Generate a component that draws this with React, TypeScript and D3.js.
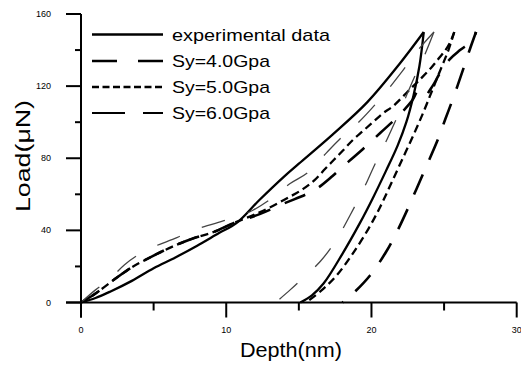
import React from "react";
import * as d3 from "d3";

type P = [number, number];

// Experimental data (depth nm, load µN)
const expLoading: P[] = [[0,0],[1,2.5],[2,6],[3.5,12],[5,19],[6.5,25],[8,31.5],[9.5,38.5],[10.7,44],[12.3,57],[14,70],[15,77],[17.3,93],[19.7,111],[21.9,132],[23.6,150]];
const expUnloading: P[] = [[23.6,150],[23.3,131],[22.9,115],[22.4,100],[21.8,87],[21.0,73],[20.1,58],[19.2,44],[18.0,27],[16.7,10.5],[15.9,4],[15.1,0]];

// Sy = 4.0 GPa
const sy4Loading: P[] = [[0,0],[1,5],[2.5,14],[3.5,19.5],[5,26],[6.3,31],[7.7,35.5],[9.1,39],[10.5,44],[12.3,49],[14,55],[15.5,60],[16.3,63.5],[17.3,70],[18.4,78],[19.4,85],[20.6,94],[21.8,103],[22.8,112],[23.2,117],[23.6,114],[24.2,120],[24.7,127],[25.4,135],[26.1,140],[26.9,145],[27.2,150]];
const sy4Unloading: P[] = [[27.2,150],[26.8,141],[26.3,129],[25.7,115],[25.1,102],[24.5,89],[23.8,76],[23.1,63],[22.5,52],[21.8,40],[21.0,28],[19.9,15],[18.6,4],[18.0,0]];

// Sy = 5.0 GPa
const sy5Loading: P[] = [[0,0],[1,5],[2.5,14],[3.5,19.5],[5,26],[6.3,31],[7.7,35.5],[9.1,39],[10.5,44],[12.3,50],[14,57],[15.3,63],[16.1,68],[16.8,74],[17.4,79],[18.0,84],[18.7,90],[19.4,95],[20.1,100],[20.8,105],[21.5,109],[22.5,117],[23.5,125],[24.2,131],[24.7,136],[25.1,140],[25.4,144],[25.7,150]];
const sy5Unloading: P[] = [[25.7,150],[25.3,140],[24.8,130],[24.2,118],[23.6,106],[22.9,93],[22.1,79],[21.3,65],[20.6,53],[19.8,41],[18.7,27],[17.6,15],[16.6,7],[15.5,0]];

// Sy = 6.0 GPa
const sy6Loading: P[] = [[0,0],[1,7],[2,13],[3,21],[4.5,29],[6.6,36],[7.7,40],[10.5,47],[11.8,51],[13,57],[14.4,66],[15.6,72],[16.9,83],[18,92],[19,99],[20.5,112],[22.1,128],[23.1,139],[24.3,150]];
const sy6Unloading: P[] = [[24.3,150],[23.7,138],[22.9,124],[22.0,107],[21.1,91],[20.2,76],[19.4,62],[18.5,48],[17.6,35],[16.5,23],[15.2,13],[14.4,7],[13.4,0]];

const xTicksMajor = [0, 10, 20, 30];
const xTicksMinor = [5, 15, 25];
const yTicksMajor = [0, 40, 80, 120, 160];
const yTicksMinor = [20, 60, 100, 140];

const legendLabels = ["experimental data", "Sy=4.0Gpa", "Sy=5.0Gpa", "Sy=6.0Gpa"];

export default function App() {
  const x = d3.scaleLinear().domain([0, 30]).range([81, 516.7]);
  const y = d3.scaleLinear().domain([0, 160]).range([302.5, 14]);
  const line = d3
    .line<P>()
    .x((d) => x(d[0]))
    .y((d) => y(d[1]))
    .curve(d3.curveCatmullRom.alpha(0.5));

  const series = [
    { data: [expLoading, expUnloading], dash: "none", w: 2.3, color: "#000", legendDash: "none", lw: 2.3 },
    { data: [sy4Loading, sy4Unloading], dash: "22,16", w: 2.6, color: "#000", legendDash: "25,21", lw: 2.4 },
    { data: [sy5Loading, sy5Unloading], dash: "8,4.5", w: 2.3, color: "#000", legendDash: "7,3.5", lw: 2.4 },
    { data: [sy6Loading, sy6Unloading], dash: "24,24", w: 1.3, color: "#444", legendDash: "33,18,20,18", lw: 2.2 },
  ];

  const legendY = [34.5, 61, 87, 113];
  const font = "'Liberation Sans', Arial, sans-serif";

  return (
    <svg
      width={521}
      height={365}
      style={{ position: "absolute", left: 0, top: 0, background: "#fff" }}
      fontFamily={font}
    >
      <rect width={521} height={365} fill="#fff" />
      {/* curves */}
      {series.map((s, i) =>
        s.data.map((d, j) => (
          <path
            key={`${i}-${j}`}
            d={line(d) || ""}
            fill="none"
            stroke={s.color}
            strokeWidth={s.w}
            strokeDasharray={s.dash === "none" ? undefined : s.dash}
            strokeLinejoin="round"
          />
        ))
      )}
      {/* axes */}
      <line x1={x(0)} x2={x(0)} y1={y(160)} y2={y(0) + 15} stroke="#000" strokeWidth={2} />
      <line x1={x(0) - 15} x2={x(30)} y1={y(0)} y2={y(0)} stroke="#000" strokeWidth={2} />
      {xTicksMajor.map((t) => (
        <g key={`xm${t}`}>
          <line x1={x(t)} x2={x(t)} y1={y(0)} y2={y(0) + 15} stroke="#000" strokeWidth={2} />
          <text x={x(t)} y={330} fontSize={9} textAnchor="middle" dominantBaseline="central">
            {t}
          </text>
        </g>
      ))}
      {xTicksMinor.map((t) => (
        <line key={`xn${t}`} x1={x(t)} x2={x(t)} y1={y(0)} y2={y(0) + 8} stroke="#000" strokeWidth={2} />
      ))}
      {yTicksMajor.map((t) => (
        <g key={`ym${t}`}>
          <line x1={x(0) - 15} x2={x(0)} y1={y(t)} y2={y(t)} stroke="#000" strokeWidth={2} />
          <text x={51} y={y(t)} fontSize={9} textAnchor="end" dominantBaseline="central">
            {t}
          </text>
        </g>
      ))}
      {yTicksMinor.map((t) => (
        <line key={`yn${t}`} x1={x(0) - 6} x2={x(0)} y1={y(t)} y2={y(t)} stroke="#000" strokeWidth={2} />
      ))}
      {/* axis titles */}
      <text x={240} y={357} fontSize={20} textLength={102} lengthAdjust="spacingAndGlyphs">
        Depth(nm)
      </text>
      <text
        transform="translate(30,212) rotate(-90)"
        fontSize={20}
        textLength={112}
        lengthAdjust="spacingAndGlyphs"
      >
        Load(μN)
      </text>
      {/* legend */}
      {series.map((s, i) => (
        <g key={`lg${i}`}>
          <line
            x1={92}
            x2={163}
            y1={legendY[i]}
            y2={legendY[i]}
            stroke="#000"
            strokeWidth={s.lw}
            strokeDasharray={s.legendDash === "none" ? undefined : s.legendDash}
          />
          <text
            x={172}
            y={legendY[i] + 6}
            fontSize={17}
            textLength={i === 0 ? 158 : 98}
            lengthAdjust="spacingAndGlyphs"
          >
            {legendLabels[i]}
          </text>
        </g>
      ))}
    </svg>
  );
}
